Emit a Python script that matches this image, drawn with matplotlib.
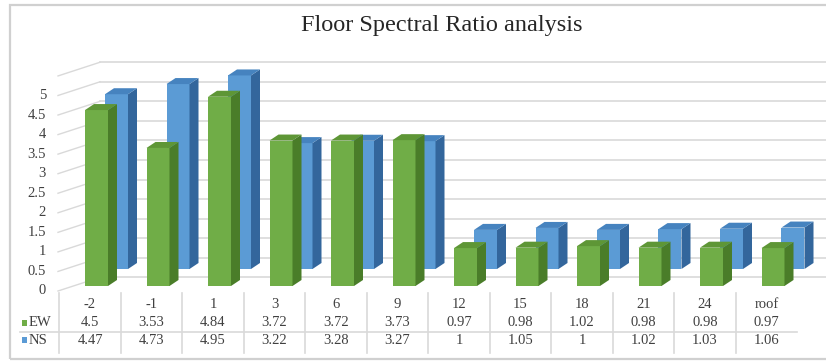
import matplotlib
matplotlib.use("Agg")
import matplotlib.pyplot as plt
from matplotlib.patches import Polygon, Rectangle

# Floor spectral ratio per storey, two horizontal directions
floors = ['-2', '-1', '1', '3', '6', '9', '12', '15', '18', '21', '24', 'roof']
ew = [4.5, 3.53, 4.84, 3.72, 3.72, 3.73, 0.97, 0.98, 1.02, 0.98, 0.98, 0.97]
ns = [4.47, 4.73, 4.95, 3.22, 3.28, 3.27, 1, 1.05, 1, 1.02, 1.03, 1.06]
series_names = ['EW', 'NS']
y_ticks = [0, 0.5, 1, 1.5, 2, 2.5, 3, 3.5, 4, 4.5, 5]
y_wall_top = 5.5

plt.rcParams['font.family'] = ['Liberation Serif', 'DejaVu Serif']

W, H = 826, 363
fig = plt.figure(figsize=(W / 100, H / 100), dpi=100)
ax = fig.add_axes([0, 0, 1, 1])

# pixel scale of the drawing: one category column and one value unit
COL, UNIT = 61.5, 39.1
X0, Y0 = 90, 286          # first column centre / front floor (pixels from top)
ax.set_xlim((0 - X0) / COL, (W - X0) / COL)
ax.set_ylim((Y0 - H) / UNIT, Y0 / UNIT)
ax.axis('off')

def px_x(p):
    return p / COL

def px_y(p):
    return p / UNIT

grid_c = '#D9D9D9'
text_c = '#404040'

# back wall and side wall grid
back_dy = px_y(8.7)
wall_x = px_x(10)
side_x = px_x(-32)
label_dy = px_y(-5)
for v in y_ticks + [y_wall_top]:
    ax.plot([wall_x, ax.get_xlim()[1]], [v + back_dy, v + back_dy],
            color=grid_c, lw=1.2, zorder=1)
    ax.plot([side_x, wall_x], [v + label_dy, v + back_dy],
            color=grid_c, lw=1.0, zorder=1)
for v in y_ticks:
    ax.text(px_x(-44), v + px_y(-5), f'{v:g}', ha='right', va='center',
            fontsize=10.5, color=text_c)

# faux-3D columns
depth_x, depth_y = px_x(9), px_y(6)
bar_w = px_x(23)
front_off = px_x(-5)
row_shift_x, row_shift_y = px_x(20), px_y(17)

def column(x_left, base, value, front, side, top, z):
    ax.bar(x_left, value, width=bar_w, bottom=base, align='edge',
           color=front, edgecolor='none', zorder=z)
    xr = x_left + bar_w
    yt = base + value
    ax.add_patch(Polygon([(xr, base), (xr + depth_x, base + depth_y),
                          (xr + depth_x, yt + depth_y), (xr, yt)],
                         closed=True, facecolor=side, edgecolor='none', zorder=z))
    ax.add_patch(Polygon([(x_left, yt), (xr, yt), (xr + depth_x, yt + depth_y),
                          (x_left + depth_x, yt + depth_y)],
                         closed=True, facecolor=top, edgecolor='none', zorder=z))

for i, v in enumerate(ns):
    column(i + front_off + row_shift_x, row_shift_y, v,
           '#5B9BD5', '#33669C', '#4683BF', 3)
for i, v in enumerate(ew):
    column(i + front_off, 0, v, '#70AD47', '#4A7D29', '#5E9636', 4)

# data table under the columns
row_cat = px_y(Y0 - 305)
row_ew = px_y(Y0 - 323)
row_ns = px_y(Y0 - 340)
n = len(floors)
for i in range(n):
    ax.plot([i - 0.5, i - 0.5], [px_y(Y0 - 293), px_y(Y0 - 353)],
            color=grid_c, lw=1.2, zorder=1)
ax.plot([px_x(20 - X0), n - 0.5], [px_y(Y0 - 332), px_y(Y0 - 332)],
        color=grid_c, lw=1.2, zorder=1)
for i, f in enumerate(floors):
    ax.text(i, row_cat, f, ha='center', va='center', fontsize=10.5, color=text_c)
    ax.text(i, row_ew, f'{ew[i]:g}', ha='center', va='center', fontsize=10.5, color=text_c)
    ax.text(i, row_ns, f'{ns[i]:g}', ha='center', va='center', fontsize=10.5, color=text_c)

for name, y, c in zip(series_names, [row_ew, row_ns], ['#70AD47', '#5B9BD5']):
    ax.add_patch(Rectangle((px_x(22 - X0), y - px_y(2.5)), px_x(5.5), px_y(5.5),
                           facecolor=c, edgecolor='none'))
    ax.text(px_x(29 - X0), y, name, ha='left', va='center', fontsize=10.5, color=text_c)

# title and chart frame
fig.text(441.5 / W, 1 - 25 / H, 'Floor Spectral Ratio analysis', ha='center',
         va='center', fontsize=17.5, color='#262626')
fig.patches.append(Rectangle((10 / W, 4 / H), 830 / W, 354 / H, transform=fig.transFigure,
                             fill=False, edgecolor='#D0D0D0', lw=1.6))

fig.savefig('out.png', dpi=100, facecolor='white')
